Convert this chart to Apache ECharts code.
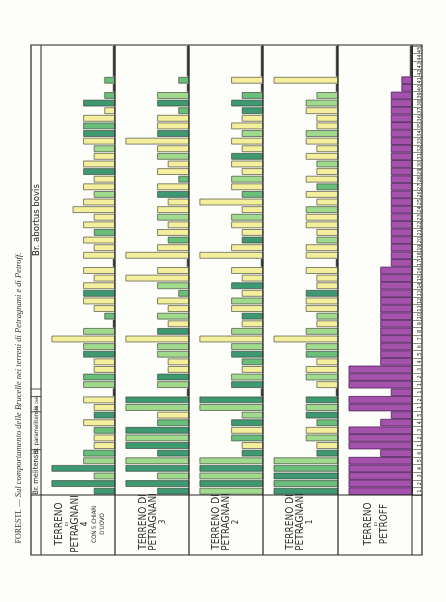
<!DOCTYPE html>
<html><head><meta charset="utf-8">
<script src="https://cdn.jsdelivr.net/npm/echarts@6/dist/echarts.min.js"></script>
<style>html,body{margin:0;padding:0;background:#fdfdfa;} #c{width:446px;height:602px;}</style>
</head><body><div id="c"></div><script>
// Row categories (bottom -> top): Br. melitensis 1-6, Br. paramelitensis 1-5, Br. ovis 1-2, single strain, Br. abortus bovis 1-45
const categories = ['m1','m2','m3','m4','m5','m6','p1','p2','p3','p4','p5','o1','o2','x1',
 'b1','b2','b3','b4','b5','b6','b7','b8','b9','b10','b11','b12','b13','b14','b15','b16','b17','b18','b19','b20',
 'b21','b22','b23','b24','b25','b26','b27','b28','b29','b30','b31','b32','b33','b34','b35','b36','b37','b38','b39','b40',
 'b41','b42','b43','b44','b45'];
const tickLabels = ['1','2','3','4','5','6','1','2','3','4','5','1','2','1',
 '1','2','3','4','5','6','7','8','9','10','11','12','13','14','15','16','17','18','19','20',
 '21','22','23','24','25','26','27','28','29','30','31','32','33','34','35','36','37','38','39','40',
 '41','42','43','44','45'];
const panelNames = ['Petragnani 4','Petragnani 3','Petragnani 2','Petragnani 1','Petroff'];

// growth values (0-6) per row, bottom -> top
const p4Values = [2,6,2,6,3,3, 2,2,2,3,2, 2,3, 0,
 3,3,2,2,3,3,6,3,0,1, 2,3,3,3,2,3,0,3,2,3, 2,3,2,4,3,2,3,2,3,3, 2,2,3,3,3,3,1,3,1,0, 1,0,0,0,0];
const p4Colors = ['D','D','L','D','L','M', 'Y','Y','M','Y','D', 'Y','Y', '-',
 'L','M','Y','Y','D','L','Y','L','-','M', 'Y','Y','D','Y','Y','Y','-','Y','Y','Y', 'M','Y','Y','Y','Y','L','Y','Y','D','Y', 'Y','L','Y','D','M','Y','Y','D','M','-', 'M','-','-','-','-'];

const p3Values = [3,6,3,6,6,3, 6,6,6,3,3, 6,6, 0,
 3,3,2,2,3,3,6,3,2,3, 2,3,1,3,6,3,0,6,3,2, 3,2,3,3,2,3,3,1,3,2, 3,3,6,3,3,3,1,3,3,0, 1,0,0,0,0];
const p3Colors = ['D','D','L','D','L','D', 'D','L','D','M','Y', 'L','D', '-',
 'L','D','Y','Y','L','L','Y','D','Y','L', 'Y','Y','M','L','Y','Y','-','Y','Y','M', 'Y','Y','L','Y','Y','D','Y','M','Y','Y', 'L','Y','Y','D','Y','Y','M','D','L','-', 'M','-','-','-','-'];

const p2Values = [6,6,6,6,6,2, 2,3,3,3,2, 6,6, 0,
 3,3,2,2,3,3,6,3,2,2, 3,3,2,3,2,3,0,6,3,2, 2,3,3,2,6,2,3,3,2,3, 3,2,3,2,3,2,2,3,2,0, 3,0,0,0,0];
const p2Colors = ['L','D','L','D','L','D', 'Y','M','Y','D','L', 'L','D', '-',
 'D','L','Y','M','D','L','Y','L','Y','D', 'Y','L','Y','D','Y','Y','-','Y','Y','D', 'Y','Y','L','Y','Y','M','Y','L','Y','Y', 'D','Y','Y','L','Y','Y','D','D','M','-', 'Y','-','-','-','-'];

const p1Values = [6,6,6,6,6,2, 2,3,3,2,3, 3,3, 0,
 2,3,3,2,3,3,6,3,2,2, 3,3,3,2,2,3,0,3,3,2, 2,3,3,3,2,3,2,3,2,2, 3,2,3,3,2,2,3,3,2,0, 6,0,0,0,0];
const p1Colors = ['D','M','D','M','L','D', 'Y','L','Y','M','D', 'L','D', '-',
 'Y','L','Y','Y','M','L','Y','L','Y','L', 'Y','Y','D','Y','Y','Y','-','Y','Y','L', 'Y','Y','Y','L','Y','Y','M','Y','Y','L', 'Y','Y','Y','L','Y','Y','Y','L','L','-', 'Y','-','-','-','-'];

const petroffValues = [6,6,6,6,6,3, 6,6,6,3,2, 6,6, 2,
 6,6,6,3,3,3,3,3,3,3, 3,3,3,3,3,3,2,2,2,2, 2,2,2,2,2,2,2,2,2,2, 2,2,2,2,2,2,2,2,2,1, 1,0,0,0,0];

const COLORS = {Y:'#f4ef9d', L:'#a0da8c', M:'#69be79', D:'#3e9971'};
const PURPLE = '#a452ab';

const panelValues = [p4Values, p3Values, p2Values, p1Values, petroffValues];
const panelColors = [p4Colors, p3Colors, p2Colors, p1Colors, null];
const lefts = [41, 115, 189, 263, 338];
const rights = [115, 189, 263, 338, 412];
const TOP = 46, BOTTOM = 495;

const chart = echarts.init(document.getElementById('c'), null, {renderer:'canvas'});
const grids = [], xAxes = [], yAxes = [], series = [];
panelValues.forEach((vals, gi) => {
  const isP = gi === 4;
  grids.push({left: lefts[gi], top: TOP, width: rights[gi]-lefts[gi], height: BOTTOM-TOP, containLabel:false});
  xAxes.push({gridIndex: gi, type:'value', inverse:true, min:0, max:7, show:false});
  yAxes.push({gridIndex: gi, type:'category', data: categories, position:'right',
    show: isP,
    axisLine:{show:isP, lineStyle:{color:'#2a2a2a', width:1}},
    axisTick:{show:isP, length:10, lineStyle:{color:'#444', width:0.6}},
    axisLabel:{show:isP, interval:0, rotate:90, margin:5, fontSize:5.5, color:'#222',
      fontFamily:'Liberation Sans Narrow, DejaVu Sans Condensed, sans-serif',
      formatter:(v, i) => tickLabels[i]}
  });
  series.push({
    type:'bar', name: panelNames[gi], xAxisIndex: gi, yAxisIndex: gi, silent:true,
    barCategoryGap: isP ? '0%' : '14%',
    itemStyle:{borderColor: isP ? '#4e1f5a' : '#34352c', borderWidth: isP ? 0.8 : 0.6},
    data: vals.map((v, i) => v === 0 ? '-' : ({value: v,
      itemStyle:{color: isP ? PURPLE : COLORS[panelColors[gi][i]]}}))
  });
  const zeros = [];
  vals.forEach((v, i) => { if (v === 0) zeros.push([0, i]); });
  series.push({type:'scatter', xAxisIndex: gi, yAxisIndex: gi, silent:true, symbol:'rect',
    symbolSize:[2.4, 7.8], symbolOffset:[-1, 0], itemStyle:{color:'#151515'}, data: zeros, z:5});
});

const g = [];
const line = (x1,y1,x2,y2,w) => g.push({type:'line', shape:{x1,y1,x2,y2}, style:{stroke:'#262626', lineWidth:w||1}, z:10});
// frame
g.push({type:'rect', shape:{x:31, y:45, width:391, height:510}, style:{fill:'none', stroke:'#262626', lineWidth:1.2}, z:10});
line(41,45,41,555,1);
[115,189,263,338].forEach(x => line(x,45,x,555,1.2));
line(412,45,412,555,1);
line(31,495,422,495,1.2);
[449.7, 411.8, 396.6, 389].forEach(y => line(31,y,41,y,0.8));

const rot = Math.PI/2;
const txt = (x,y,text,style) => g.push({type:'text', x, y, rotation: rot, z:11,
  style: Object.assign({text, fill:'#262626', align:'center', verticalAlign:'middle'}, style)});
// title
txt(19, 398, '{a|FORESTI.}{b| — Sul comportamento delle Brucelle nei terreni di Petragnani e di Petroff.}', {
  rich:{a:{fontSize:8, fontFamily:'Liberation Serif, serif', fill:'#333'},
        b:{fontSize:8.5, fontStyle:'italic', fontFamily:'Liberation Serif, serif', fill:'#333'}}});
// header column
const hf = 'Liberation Sans Narrow, DejaVu Sans Condensed, sans-serif';
txt(36.5, 472, 'Br. melitensis', {fontSize:7.5, fontFamily:hf});
txt(36.5, 430, 'Br. paramelitensis', {fontSize:6, fontFamily:hf});
txt(36.5, 403, 'Br. ovis', {fontSize:4.5, fontFamily:hf});
txt(36.5, 220, 'Br. abortus bovis', {fontSize:9.5, fontFamily:hf});
// panel labels
const rich = {
  t:{fontSize:10, fontFamily:hf, lineHeight:10, fill:'#2b2b2b'},
  s:{fontSize:4, fontFamily:hf, lineHeight:6, fill:'#2b2b2b'},
  n:{fontSize:8, fontFamily:hf, lineHeight:10, fill:'#2b2b2b'},
  c:{fontSize:6, fontFamily:hf, lineHeight:8, fill:'#2b2b2b'}
};
txt(80, 524, '{t|TERRENO}\n{s|DI}\n{t|PETRAGNANI}\n{n|4}\n{c|CON 5 CHIARI}\n{c|D\'UOVO}', {rich});
txt(153, 522, '{t|TERRENO DI}\n{t|PETRAGNANI}\n{n|3}', {rich});
txt(226, 522, '{t|TERRENO DI}\n{t|PETRAGNANI}\n{n|2}', {rich});
txt(300, 522, '{t|TERRENO DI}\n{t|PETRAGNANI}\n{n|1}', {rich});
txt(376, 524, '{t|TERRENO}\n{s|DI}\n{t|PETROFF}', {rich});

chart.setOption({animation:false, grid: grids, xAxis: xAxes, yAxis: yAxes, series, graphic: g});
</script></body></html>
